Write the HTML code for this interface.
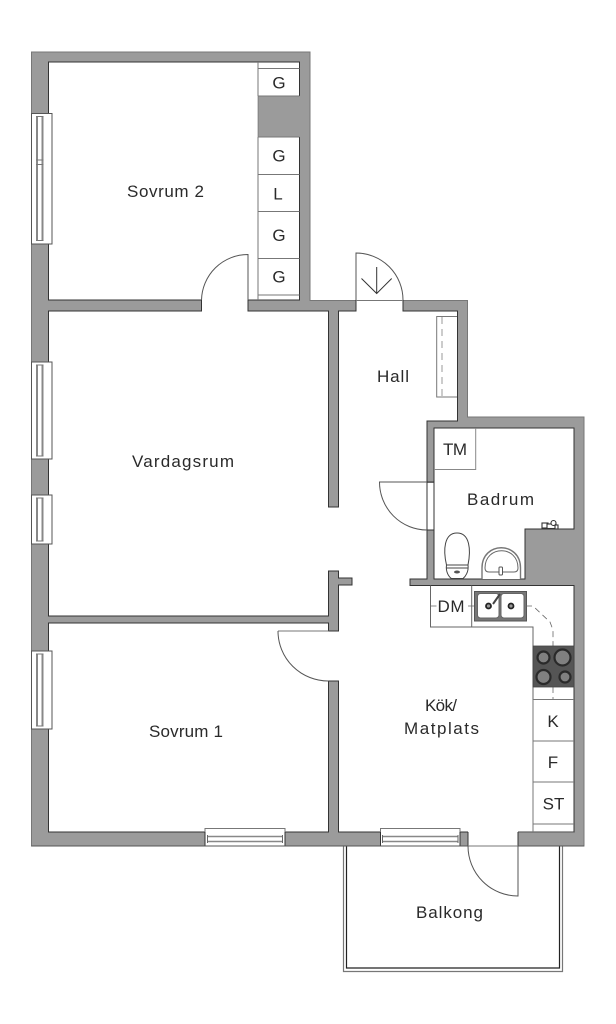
<!DOCTYPE html>
<html><head><meta charset="utf-8"><title>Planritning</title>
<style>html,body{margin:0;padding:0;background:#fff}svg{display:block}
text{font-family:"Liberation Sans",sans-serif;font-size:17px;fill:#2a2a2a}</style></head>
<body>
<svg width="616" height="1024" viewBox="0 0 616 1024" xmlns="http://www.w3.org/2000/svg">
<rect width="616" height="1024" fill="#fff"/>
<!-- balcony -->
<path d="M343.5 846V971.5H562.5V846" fill="#fff" stroke="#777" stroke-width="1.2"/>
<path d="M346.5 846V968H559.5V846" fill="none" stroke="#222" stroke-width="1.2"/>
<!-- walls -->
<polygon points="31.5,52 310,52 310,300.5 467.5,300.5 467.5,417 584,417 584,846 31.5,846" fill="#9b9b9b" stroke="#777" stroke-width="1"/>
<!-- rooms -->
<g fill="#fff" stroke="#333" stroke-width="1">
<polygon points="48.5,62 299.5,62 299.5,300 48.5,300"/>
<polygon points="48.5,311 328.5,311 328.5,507 338.5,507 338.5,311 457.5,311 457.5,421 427,421 427,579 410,579 410,585.5 574,585.5 574,832 338.5,832 338.5,681 328.5,681 328.5,832 48.5,832 48.5,623 328.5,623 328.5,631 338.5,631 338.5,585 352,585 352,578 338.5,578 338.5,571 328.5,571 328.5,616 48.5,616"/>
<polygon points="434,428 574,428 574,529 525,529 525,579 434,579"/>
</g>
<!-- pillar in closet wall -->
<rect x="258" y="96" width="42" height="41" fill="#9b9b9b"/>
<path d="M258 137V96" stroke="#666" stroke-width=".6"/>
<!-- door gaps -->
<g fill="#fff">
<rect x="201.500" y="299" width="46" height="13"/>
<rect x="356.500" y="299" width="46" height="13"/>
<rect x="427.500" y="483" width="6" height="46.500"/>
<rect x="468" y="831" width="50" height="15"/>
</g>
<rect x="518" y="832" width="56" height="14" fill="#9b9b9b"/>
<path d="M518 832H574" stroke="#444" stroke-width=".8"/>
<path d="M201.500 300V311.500M248 300V311.500M356 300V311.500M403 300V311.500M427 482H434M427 530H434M468 832V846M518 832V846M460 832H468" stroke="#333" stroke-width="1" fill="none"/>
<path d="M356 300.500H403M468 846H518M278 631H328.500" stroke="#777" stroke-width="1" fill="none"/>
<!-- door leaves & arcs -->
<g fill="none" stroke="#555" stroke-width="1">
<path d="M248 300V254.500A46.500 46.500 0 0 0 201.500 300"/>
<path d="M356 300V253A47 47 0 0 1 403 300"/>
<path d="M427 482H379.500A47.500 48 0 0 0 427 530"/>
<path d="M328.500 681A50.500 50 0 0 1 278 631"/>
<path d="M518 846V896A50 50 0 0 1 468 846"/>
</g>
<!-- entry arrow -->
<path d="M376.700 267V293M361.500 278.500L376.700 293.500L391.700 278.500" fill="none" stroke="#333" stroke-width="1"/>
<!-- wardrobes Sovrum 2 -->
<path d="M258 62V96M258 137V300M258 68.500H299.500M258 96H299.500M258 137H299.500M258 174.500H299.500M258 211.500H299.500M258 258.500H299.500M258 295H299.500" fill="none" stroke="#777" stroke-width="1"/>
<!-- hall closet -->
<path d="M457 316.500H436.700V397H457" fill="none" stroke="#777" stroke-width="1"/>
<path d="M442 317V396" stroke="#999" stroke-width="1" stroke-dasharray="7 5" fill="none"/>
<!-- TM box -->
<path d="M475.700 428V469.500H434" fill="none" stroke="#888" stroke-width="1"/>
<!-- toilet -->
<path d="M446.500 565C443 550 444 533 457 533C470 533 471 550 468 565Z" fill="#fff" stroke="#444" stroke-width="1"/>
<path d="M446.500 565H468C469 572 465 577 463 578.500H451.500C449 577 445.500 572 446.500 565Z" fill="#fff" stroke="#444" stroke-width="1"/>
<path d="M446 568H468.500" stroke="#444" stroke-width="1"/>
<ellipse cx="457" cy="572" rx="3" ry="1.500" fill="#555"/>
<!-- basin -->
<path d="M482 579V568C482 541 520.500 541 520.500 568V579" fill="#fff" stroke="#777" stroke-width="1.400"/>
<path d="M485 568C485 545 518 545 518 568C518 571 516 572 514 572H489C487 572 485 571 485 568Z" fill="#fff" stroke="#666" stroke-width="1"/>
<rect x="499" y="567" width="3.500" height="8" rx="1" fill="#fff" stroke="#555" stroke-width="1"/>
<!-- tap -->
<g fill="#fff" stroke="#333" stroke-width="1.100">
<rect x="542" y="523" width="6" height="5"/>
<rect x="547" y="524" width="9" height="4.500"/>
<circle cx="553.500" cy="523" r="2.500"/>
<rect x="555" y="525" width="3" height="4"/>
</g>
<!-- DM + counter -->
<path d="M430.500 585.500V627H533V700M471.700 585.500V627" fill="none" stroke="#666" stroke-width="1"/>
<!-- sink -->
<rect x="474.500" y="591.500" width="52" height="29.500" fill="#777" stroke="#555" stroke-width="1"/>
<rect x="477.500" y="593.500" width="21.500" height="24.500" rx="3" fill="#fff" stroke="#666" stroke-width="1"/>
<rect x="501" y="593.500" width="23" height="24.500" rx="3" fill="#fff" stroke="#666" stroke-width="1"/>
<circle cx="488.500" cy="606" r="2.500" fill="#999" stroke="#222" stroke-width="1.800"/>
<circle cx="511" cy="606" r="2.500" fill="#999" stroke="#222" stroke-width="1.800"/>
<path d="M493 604L500 594" stroke="#444" stroke-width="2"/>
<!-- dashed service line -->
<path d="M430.500 606H437M468 606H476M526 606H533L550 622L553 630V646M553 687V700" fill="none" stroke="#666" stroke-width=".8" stroke-dasharray="6 4"/>
<!-- stove -->
<rect x="533" y="646" width="41" height="41" fill="#555" stroke="#444" stroke-width=".8"/>
<g stroke="#2a2a2a" stroke-width="2.200" fill="#808080">
<circle cx="543.500" cy="657.500" r="6"/>
<circle cx="562.500" cy="657.500" r="8"/>
<circle cx="543.500" cy="677" r="7"/>
<circle cx="565" cy="677" r="5.500"/>
</g>
<!-- K F ST -->
<path d="M533 700V832M533 699.500H574M533 741H574M533 782H574M533 824H574" fill="none" stroke="#777" stroke-width="1"/>
<!-- left windows -->
<g fill="#fff" stroke="#555" stroke-width="1">
<rect x="31.500" y="113.500" width="20.500" height="130.500"/>
<rect x="31.500" y="362" width="20.500" height="97"/>
<rect x="31.500" y="495" width="20.500" height="49"/>
<rect x="31.500" y="651" width="20.500" height="78"/>
</g>
<path d="M37 116V241M42.500 116V241M37 364.500V456.500M42.500 364.500V456.500M37 497.500V541.500M42.500 497.500V541.500M37 653.500V726.500M42.500 653.500V726.500" stroke="#888" stroke-width="2" fill="none"/>
<path d="M36 116.500H43.500M36 240.500H43.500M36 160H43.500M36 164.500H43.500M36 365H43.500M36 456H43.500M36 498H43.500M36 541H43.500M36 654H43.500M36 726H43.500" stroke="#777" stroke-width="1" fill="none"/>
<!-- bottom windows -->
<g fill="#fff" stroke="#777" stroke-width="1">
<rect x="205" y="828.500" width="80" height="17.500"/>
<rect x="380.500" y="828.500" width="79.500" height="17.500"/>
</g>
<path d="M207.500 836.500H282.500M207.500 841.500H282.500M382.500 836.500H458M382.500 841.500H458" stroke="#888" stroke-width="1.600" fill="none"/>
<path d="M207.500 835V843M282.500 835V843M382.500 835V843M458 835V843" stroke="#666" stroke-width="1" fill="none"/>
<path d="M205 832V846M285 832V846M380.500 832V846M460 832V846" stroke="#333" stroke-width="1" fill="none"/>
<path d="M31.500 846H468M518 846H584" stroke="#555" stroke-width="1" fill="none"/>
<!-- labels -->
<text x="127" y="197" textLength="77" lengthAdjust="spacing">Sovrum 2</text>
<text x="132" y="467" textLength="102" lengthAdjust="spacing">Vardagsrum</text>
<text x="377" y="382" textLength="32" lengthAdjust="spacing">Hall</text>
<text x="443" y="455" textLength="24" lengthAdjust="spacing">TM</text>
<text x="467" y="505" textLength="67" lengthAdjust="spacing">Badrum</text>
<text x="437.500" y="612" textLength="27" lengthAdjust="spacing">DM</text>
<text x="149" y="737" textLength="74" lengthAdjust="spacing">Sovrum 1</text>
<text x="425" y="711" textLength="32" lengthAdjust="spacing">Kök/</text>
<text x="404" y="734" textLength="75" lengthAdjust="spacing">Matplats</text>
<text x="416" y="918" textLength="67" lengthAdjust="spacing">Balkong</text>
<g text-anchor="middle">
<text x="279" y="88.500">G</text>
<text x="279" y="161.500">G</text>
<text x="278" y="199.500">L</text>
<text x="279" y="241">G</text>
<text x="279" y="282.500">G</text>
<text x="553" y="727">K</text>
<text x="553" y="768">F</text>
<text x="553.500" y="809.500">ST</text>
</g>
</svg>
</body></html>
